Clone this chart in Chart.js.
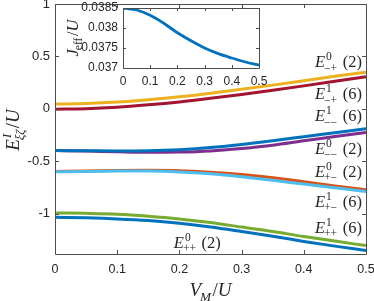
<!DOCTYPE html>
<html>
<head>
<meta charset="UTF-8">
<script src="https://cdn.jsdelivr.net/npm/chart.js"></script>
<title>Energy levels</title>
<style>
  html, body { margin: 0; padding: 0; background: #fff; }
  #wrap { position: relative; width: 374px; height: 301px; }
  #main { position: absolute; left: 0; top: 0; }
  #inset { position: absolute; left: 60px; top: 0; }
</style>
</head>
<body>
<div id="wrap">
  <canvas id="main" width="374" height="301"></canvas>
  <canvas id="inset" width="210" height="96"></canvas>
</div>
<script>
// V_M / U sample points
const vm = [0, 0.05, 0.1, 0.15, 0.2, 0.25, 0.3, 0.35, 0.4, 0.45, 0.5];

// E / U for each level
const eMinusPlus0  = [0.045, 0.050, 0.064, 0.087, 0.115, 0.149, 0.186, 0.226, 0.268, 0.310, 0.350];
const eMinusPlus1  = [-0.004, 0.001, 0.015, 0.038, 0.066, 0.100, 0.137, 0.177, 0.219, 0.262, 0.307];
const eMinusMinus1 = [-0.398, -0.400, -0.402, -0.400, -0.390, -0.370, -0.340, -0.305, -0.266, -0.228, -0.190];
const eMinusMinus0 = [-0.398, -0.403, -0.410, -0.415, -0.413, -0.402, -0.378, -0.347, -0.305, -0.265, -0.225];
const ePlusMinus0  = [-0.598, -0.594, -0.588, -0.586, -0.590, -0.605, -0.627, -0.657, -0.695, -0.735, -0.772];
const ePlusMinus1  = [-0.600, -0.598, -0.594, -0.594, -0.602, -0.620, -0.648, -0.682, -0.718, -0.753, -0.790];
const ePlusPlus1   = [-0.993, -0.997, -1.005, -1.024, -1.050, -1.085, -1.128, -1.170, -1.218, -1.262, -1.305];
const ePlusPlus0   = [-1.035, -1.040, -1.050, -1.066, -1.092, -1.127, -1.170, -1.215, -1.265, -1.310, -1.352];

// J_eff / U (inset)
const jEff = [0.03850, 0.03845, 0.03832, 0.03812, 0.03788, 0.03768, 0.03750, 0.03736, 0.03725, 0.03715, 0.03707];

// level labels: superscript, subscript, degeneracy
const levelSup = ['0', '1', '1', '0', '0', '1', '1', '0'];
const levelSub = ['\u2212+', '\u2212+', '\u2212\u2212', '\u2212\u2212', '+\u2212', '+\u2212', '++', '++'];
const levelDeg = [2, 6, 6, 2, 2, 6, 6, 2];

const xTicks = [0, 0.1, 0.2, 0.3, 0.4, 0.5];
const xTickLabels = ['0', '0.1', '0.2', '0.3', '0.4', '0.5'];
const yTicks = [-1, -0.5, 0, 0.5, 1];
const yTickLabels = ['-1', '-0.5', '0', '0.5', '1'];
const insetYTicks = [0.037, 0.0375, 0.038, 0.0385];
const insetYTickLabels = ['0.037', '0.0375', '0.038', '0.0385'];

const SANS = '"Liberation Sans", Arial, sans-serif';
const SERIF = '"Liberation Serif", "Times New Roman", serif';
const INK = '#262626';

// series in draw order (later = on top), with MATLAB colours
const series = [
  { data: eMinusPlus1,  color: '#A2142F' },
  { data: eMinusPlus0,  color: '#EDB120' },
  { data: eMinusMinus0, color: '#7E2F8E' },
  { data: eMinusMinus1, color: '#0072BD' },
  { data: ePlusMinus0,  color: '#D95319' },
  { data: ePlusMinus1,  color: '#4DBEEE' },
  { data: ePlusPlus1,   color: '#77AC30' },
  { data: ePlusPlus0,   color: '#0072BD' }
];

// small helper to typeset "E^a_b" style runs
function mathRuns(ctx, runs, size, x, y, draw) {
  let cx = x;
  for (const r of runs) {
    if (r.sup !== undefined || r.sub !== undefined) {
      const s = size * 0.7;
      let w = 0;
      if (r.sup !== undefined) {
        ctx.font = (r.supIt ? 'italic ' : '') + s + 'px ' + SERIF;
        if (draw) ctx.fillText(r.sup, cx + 1, y - size * 0.42);
        w = Math.max(w, ctx.measureText(r.sup).width + 1);
      }
      if (r.sub !== undefined) {
        ctx.font = (r.subIt ? 'italic ' : '') + s + 'px ' + SERIF;
        if (draw) ctx.fillText(r.sub, cx - 1, y + size * 0.25);
        w = Math.max(w, ctx.measureText(r.sub).width - 1);
      }
      cx += w + 1.5;
    } else {
      ctx.font = (r.it ? 'italic ' : '') + size + 'px ' + SERIF;
      if (draw) ctx.fillText(r.t, cx, y);
      cx += ctx.measureText(r.t).width;
    }
  }
  return cx - x;
}

function drawMath(ctx, runs, size, x, y, align) {
  ctx.save();
  ctx.fillStyle = INK;
  ctx.textAlign = 'left';
  ctx.textBaseline = 'alphabetic';
  const w = mathRuns(ctx, runs, size, 0, 0, false);
  let x0 = x;
  if (align === 'right') x0 = x - w;
  if (align === 'center') x0 = x - w / 2;
  mathRuns(ctx, runs, size, x0, y, true);
  ctx.restore();
}

// box with inward ticks, MATLAB style
function framePlugin(tickLen) {
  return {
    id: 'frame',
    afterDatasetsDraw(chart) {
      const { ctx, chartArea: a, scales } = chart;
      ctx.save();
      ctx.strokeStyle = '#4d4d4d';
      ctx.lineWidth = 1;
      ctx.beginPath();
      ctx.rect(Math.round(a.left) + 0.5, Math.round(a.top) + 0.5,
               Math.round(a.right - a.left), Math.round(a.bottom - a.top));
      scales.x.ticks.forEach(t => {
        const px = Math.round(scales.x.getPixelForValue(t.value)) + 0.5;
        ctx.moveTo(px, a.bottom); ctx.lineTo(px, a.bottom - tickLen);
        ctx.moveTo(px, a.top); ctx.lineTo(px, a.top + tickLen);
      });
      scales.y.ticks.forEach(t => {
        const py = Math.round(scales.y.getPixelForValue(t.value)) + 0.5;
        ctx.moveTo(a.left, py); ctx.lineTo(a.left + tickLen, py);
        ctx.moveTo(a.right, py); ctx.lineTo(a.right - tickLen, py);
      });
      ctx.stroke();
      ctx.restore();
    }
  };
}

function axis(ticks, labels, min, max, size, fontSize, pad, isX) {
  return {
    type: 'linear', min: min, max: max,
    afterBuildTicks: s => { s.ticks = ticks.map(v => ({ value: v })); },
    afterFit: s => {
      if (isX) { s.height = size; s.paddingLeft = 0; s.paddingRight = 0; }
      else { s.width = size; s.paddingTop = 0; s.paddingBottom = 0; }
    },
    grid: { display: false, drawTicks: false },
    border: { display: false },
    ticks: {
      padding: pad, color: INK, maxRotation: 0, autoSkip: false,
      font: { family: SANS, size: fontSize },
      callback: (v, i) => labels[i]
    }
  };
}

// label anchors (data units) for the level names
const labelSpots = [
  { x: 0.5, y: 0.395, align: 'right' },
  { x: 0.5, y: 0.090, align: 'right' },
  { x: 0.5, y: -0.120, align: 'right' },
  { x: 0.5, y: -0.433, align: 'right' },
  { x: 0.5, y: -0.652, align: 'right' },
  { x: 0.5, y: -0.938, align: 'right' },
  { x: 0.5, y: -1.186, align: 'right' },
  { x: 0.191, y: -1.328, align: 'left' }
];

const mainText = {
  id: 'mainText',
  afterDraw(chart) {
    const { ctx, scales } = chart;
    labelSpots.forEach((p, i) => {
      const runs = [{ t: 'E', it: true }, { sup: levelSup[i], sub: levelSub[i] }, { t: ' (' + levelDeg[i] + ')' }];
      const px = scales.x.getPixelForValue(p.x) - (p.align === 'right' ? 4 : 0);
      drawMath(ctx, runs, 16.5, px, scales.y.getPixelForValue(p.y), p.align);
    });
    // x title
    drawMath(ctx, [{ t: 'V', it: true }, { sub: 'M', subIt: true }, { t: '/' }, { t: 'U', it: true }],
             19, (chart.chartArea.left + chart.chartArea.right) / 2, 296, 'center');
    // y title
    ctx.save();
    ctx.translate(19, (chart.chartArea.top + chart.chartArea.bottom) / 2 + 1);
    ctx.rotate(-Math.PI / 2);
    drawMath(ctx, [{ t: 'E', it: true }, { sup: 'I', supIt: true, sub: '\u03BE\u03B6', subIt: true }, { t: '/' }, { t: 'U', it: true }],
             19, 0, 0, 'center');
    ctx.restore();
  }
};

new Chart(document.getElementById('main'), {
  type: 'line',
  data: {
    datasets: series.map(s => ({
      data: vm.map((v, i) => ({ x: v, y: s.data[i] })),
      borderColor: s.color,
      borderWidth: 3,
      cubicInterpolationMode: 'monotone',
      pointRadius: 0,
      fill: false
    })).reverse()
  },
  options: {
    responsive: false,
    animation: false,
    layout: { padding: { top: 4, right: 8, left: 0, bottom: 0 } },
    plugins: { legend: { display: false }, tooltip: { enabled: false } },
    scales: {
      x: axis(xTicks, xTickLabels, 0, 0.5, 47, 12.5, 8, true),
      y: axis(yTicks, yTickLabels, -1.385, 1, 55, 13, 5, false)
    }
  },
  plugins: [framePlugin(4), mainText]
});

const insetText = {
  id: 'insetText',
  beforeDatasetsDraw(chart) {
    const a = chart.chartArea;
    chart.ctx.save();
    chart.ctx.fillStyle = '#fff';
    chart.ctx.fillRect(a.left, a.top, a.right - a.left, a.bottom - a.top);
    chart.ctx.restore();
  },
  afterDraw(chart) {
    const { ctx } = chart;
    ctx.save();
    ctx.translate(18, (chart.chartArea.top + chart.chartArea.bottom) / 2);
    ctx.rotate(-Math.PI / 2);
    drawMath(ctx, [{ t: 'J', it: true }, { sub: 'eff' }, { t: '/' }, { t: 'U', it: true }], 16.5, 0, 0, 'center');
    ctx.restore();
  }
};

new Chart(document.getElementById('inset'), {
  type: 'line',
  data: {
    datasets: [{
      data: vm.map((v, i) => ({ x: v, y: jEff[i] })),
      borderColor: '#0072BD',
      borderWidth: 2.8,
      cubicInterpolationMode: 'monotone',
      pointRadius: 0,
      fill: false
    }]
  },
  options: {
    responsive: false,
    animation: false,
    layout: { padding: { top: 8, right: 11, left: 0, bottom: 0 } },
    plugins: { legend: { display: false }, tooltip: { enabled: false } },
    scales: {
      x: axis(xTicks, xTickLabels, 0, 0.5, 28, 12, 6, true),
      y: axis(insetYTicks, insetYTickLabels, 0.037, 0.0385, 63, 12, 5, false)
    }
  },
  plugins: [insetText, framePlugin(3)]
});
</script>
</body>
</html>
